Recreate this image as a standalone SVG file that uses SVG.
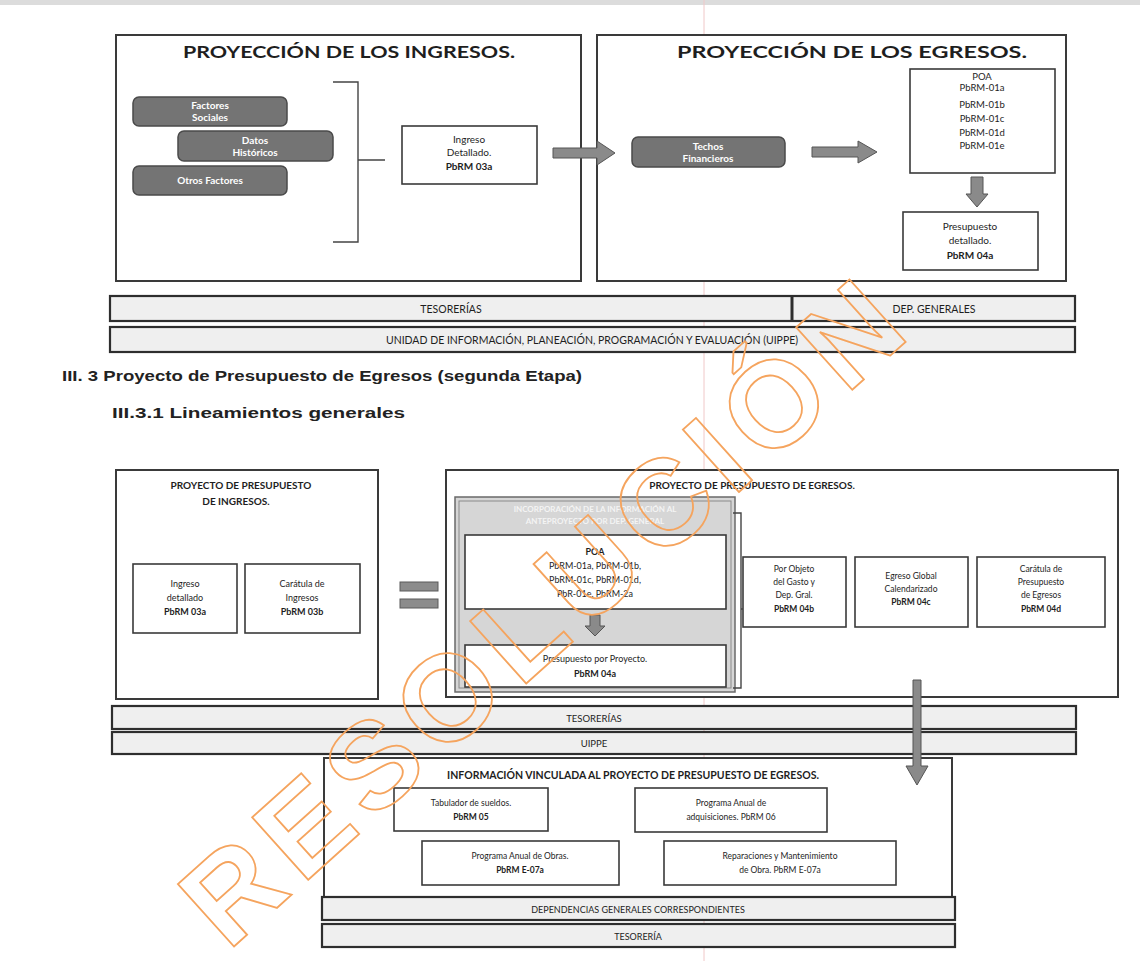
<svg xmlns="http://www.w3.org/2000/svg" width="1140" height="961" viewBox="0 0 1140 961">
<style>
.bg{fill:#ffffff}
.box{fill:#ffffff;stroke:#3a3a3a;stroke-width:2}
.ibox{fill:#ffffff;stroke:#3a3a3a;stroke-width:1.6}
.gbox{fill:#747474;stroke:#4a4a4a;stroke-width:1.5}
.bar{fill:#efefef;stroke:#2e2e2e;stroke-width:2.2}
.garrow{fill:#8a8a8a;stroke:#555;stroke-width:1}
.line{fill:none;stroke:#444;stroke-width:1.4}
.t{font-family:Lato,"Open Sans","Liberation Sans",sans-serif;fill:#1e1e1e;text-anchor:middle}
.b{font-weight:bold}
.w{fill:#ffffff;font-weight:bold}
.h{font-family:"Liberation Sans",Arial,sans-serif;font-weight:bold;fill:#222}
.wm{font-family:"Liberation Sans",Arial,sans-serif;font-weight:bold;fill:none;stroke:#f5a45e;stroke-width:1.8}
</style>
<rect class="bg" x="0" y="0" width="1140" height="961"/>
<rect x="0" y="0" width="1140" height="5" fill="#dcdcdc"/>
<line x1="704" y1="0" x2="704" y2="961" stroke="#f0c8c8" stroke-width="1"/>

<!-- TOP: Proyección de los ingresos -->
<g id="proy-ingresos">
<rect class="box" x="116" y="35" width="465" height="246"/>
<text class="t b" x="349" y="58" font-size="17" textLength="332" lengthAdjust="spacingAndGlyphs">PROYECCIÓN DE LOS INGRESOS.</text>
</g>
<g id="factores-sociales">
<rect class="gbox" x="133" y="97" width="154" height="29" rx="6"/>
<text class="t w" x="210" y="109" font-size="10">Factores</text>
<text class="t w" x="210" y="121" font-size="10">Sociales</text>
</g>
<g id="datos-historicos">
<rect class="gbox" x="178" y="131" width="155" height="30" rx="6"/>
<text class="t w" x="255" y="144" font-size="10">Datos</text>
<text class="t w" x="255" y="156" font-size="10">Históricos</text>
</g>
<g id="otros-factores">
<rect class="gbox" x="133" y="166" width="154" height="29" rx="6"/>
<text class="t w" x="210" y="184" font-size="10">Otros Factores</text>
</g>
<g id="ingreso-detallado">
<rect class="ibox" x="402" y="126" width="135" height="58"/>
<text class="t" x="469" y="143" font-size="10">Ingreso</text>
<text class="t" x="469" y="156" font-size="10">Detallado.</text>
<text class="t b" x="469" y="170" font-size="10">PbRM 03a</text>
</g>

<!-- TOP: Proyección de los egresos -->
<g id="proy-egresos">
<rect class="box" x="597" y="35" width="469" height="246"/>
<text class="t b" x="852" y="58" font-size="17" textLength="350" lengthAdjust="spacingAndGlyphs">PROYECCIÓN DE LOS EGRESOS.</text>
</g>
<g id="techos">
<rect class="gbox" x="632" y="137" width="153" height="30" rx="6"/>
<text class="t w" x="708" y="150" font-size="10">Techos</text>
<text class="t w" x="708" y="162" font-size="10">Financieros</text>
</g>
<g id="poa-top">
<rect class="ibox" x="910" y="69" width="145" height="104"/>
<text class="t" x="982" y="80" font-size="9.5">POA</text>
<text class="t" x="982" y="91" font-size="9.5">PbRM-01a</text>
<text class="t" x="982" y="108" font-size="9.5">PbRM-01b</text>
<text class="t" x="982" y="122" font-size="9.5">PbRM-01c</text>
<text class="t" x="982" y="136" font-size="9.5">PbRM-01d</text>
<text class="t" x="982" y="149" font-size="9.5">PbRM-01e</text>
</g>
<g id="presupuesto-detallado">
<rect class="ibox" x="903" y="212" width="135" height="58"/>
<text class="t" x="970" y="230" font-size="10">Presupuesto</text>
<text class="t" x="970" y="244" font-size="10">detallado.</text>
<text class="t b" x="970" y="259" font-size="10">PbRM 04a</text>
</g>

<!-- Top bars -->
<g id="bar-tesorerias-top">
<rect class="bar" x="110" y="296" width="965" height="25"/>
<line x1="792" y1="296" x2="792" y2="321" stroke="#2e2e2e" stroke-width="3"/>
<text class="t" x="451" y="313" font-size="10.5">TESORERÍAS</text>
<text class="t" x="934" y="313" font-size="10.5">DEP. GENERALES</text>
</g>
<g id="bar-uippe-top">
<rect class="bar" x="110" y="327" width="965" height="25"/>
<text class="t" x="592" y="344" font-size="10.5">UNIDAD DE INFORMACIÓN, PLANEACIÓN, PROGRAMACIÓN Y EVALUACIÓN (UIPPE)</text>
</g>

<!-- Headings -->
<text class="h" x="62" y="381" font-size="14" textLength="520" lengthAdjust="spacingAndGlyphs">III. 3 Proyecto de Presupuesto de Egresos (segunda Etapa)</text>
<text class="h" x="112" y="418" font-size="14" textLength="293" lengthAdjust="spacingAndGlyphs">III.3.1 Lineamientos generales</text>

<!-- BOTTOM: Proyecto de presupuesto de ingresos -->
<g id="ppi">
<rect class="box" x="116" y="470" width="262" height="229"/>
<text class="t b" x="241" y="489" font-size="10">PROYECTO DE PRESUPUESTO</text>
<text class="t b" x="236" y="505" font-size="10">DE INGRESOS.</text>
</g>
<g id="ingreso-detallado-2">
<rect class="ibox" x="133" y="564" width="104" height="69"/>
<text class="t" x="185" y="587" font-size="9">Ingreso</text>
<text class="t" x="185" y="601" font-size="9">detallado</text>
<text class="t b" x="185" y="615" font-size="9">PbRM 03a</text>
</g>
<g id="caratula-ingresos">
<rect class="ibox" x="245" y="564" width="115" height="69"/>
<text class="t" x="302" y="587" font-size="9">Carátula de</text>
<text class="t" x="302" y="601" font-size="9">Ingresos</text>
<text class="t b" x="302" y="615" font-size="9">PbRM 03b</text>
</g>

<!-- BOTTOM: Proyecto de presupuesto de egresos -->
<g id="ppe">
<rect class="box" x="446" y="470" width="672" height="227"/>
<text class="t b" x="752" y="489" font-size="10">PROYECTO DE PRESUPUESTO DE EGRESOS.</text>
</g>
<g id="incorporacion">
<rect x="455" y="497" width="280" height="195" fill="#d6d6d6" stroke="#6a6a6a" stroke-width="1.5"/>
<rect x="459" y="501" width="272" height="187" fill="none" stroke="#8a8a8a" stroke-width="1"/>
<text class="t b" x="595" y="512" font-size="8" style="fill:#f4f4f4">INCORPORACIÓN DE LA INFORMACIÓN AL</text>
<text class="t b" x="595" y="524" font-size="8" style="fill:#f4f4f4">ANTEPROYECTO POR DEP. GENERAL</text>
</g>
<g id="poa-bottom">
<rect class="ibox" x="465" y="535" width="261" height="74"/>
<text class="t b" x="595" y="555" font-size="9">POA</text>
<text class="t" x="595" y="569" font-size="9">PbRM-01a, PbRM-01b,</text>
<text class="t" x="595" y="583" font-size="9">PbRM-01c, PbRM-01d,</text>
<text class="t" x="595" y="597" font-size="9">PbR-01e, PbRM-2a</text>
</g>
<g id="presupuesto-proyecto">
<rect class="ibox" x="465" y="645" width="261" height="42"/>
<text class="t" x="595" y="662" font-size="9">Presupuesto por Proyecto.</text>
<text class="t b" x="595" y="677" font-size="9">PbRM 04a</text>
</g>
<g id="por-objeto">
<rect class="ibox" x="743" y="557" width="103" height="70"/>
<text class="t" x="794" y="572" font-size="8.5">Por Objeto</text>
<text class="t" x="794" y="585" font-size="8.5">del Gasto y</text>
<text class="t" x="794" y="598" font-size="8.5">Dep. Gral.</text>
<text class="t b" x="794" y="612" font-size="8.5">PbRM 04b</text>
</g>
<g id="egreso-global">
<rect class="ibox" x="855" y="557" width="113" height="70"/>
<text class="t" x="911" y="579" font-size="8.5">Egreso Global</text>
<text class="t" x="911" y="592" font-size="8.5">Calendarizado</text>
<text class="t b" x="911" y="605" font-size="8.5">PbRM 04c</text>
</g>
<g id="caratula-egresos">
<rect class="ibox" x="977" y="557" width="128" height="70"/>
<text class="t" x="1041" y="572" font-size="8.5">Carátula de</text>
<text class="t" x="1041" y="585" font-size="8.5">Presupuesto</text>
<text class="t" x="1041" y="598" font-size="8.5">de Egresos</text>
<text class="t b" x="1041" y="612" font-size="8.5">PbRM 04d</text>
</g>

<!-- Bottom bars -->
<g id="bar-tesorerias">
<rect class="bar" x="112" y="706" width="964" height="23"/>
<text class="t" x="594" y="722" font-size="9.5">TESORERÍAS</text>
</g>
<g id="bar-uippe">
<rect class="bar" x="112" y="732" width="964" height="22"/>
<text class="t" x="594" y="747" font-size="9.5">UIPPE</text>
</g>

<!-- Información vinculada -->
<g id="info-vinculada">
<rect class="box" x="324" y="758" width="628" height="139"/>
<text class="t b" x="633" y="779" font-size="10.5">INFORMACIÓN VINCULADA AL PROYECTO DE PRESUPUESTO DE EGRESOS.</text>
</g>
<g id="tabulador">
<rect class="ibox" x="394" y="788" width="154" height="43"/>
<text class="t" x="471" y="806" font-size="8.5">Tabulador de sueldos.</text>
<text class="t b" x="471" y="820" font-size="8.5">PbRM 05</text>
</g>
<g id="adquisiciones">
<rect class="ibox" x="635" y="788" width="192" height="44"/>
<text class="t" x="731" y="806" font-size="8.5">Programa Anual de</text>
<text class="t" x="731" y="820" font-size="8.5">adquisiciones. PbRM 06</text>
</g>
<g id="obras">
<rect class="ibox" x="422" y="841" width="197" height="44"/>
<text class="t" x="520" y="859" font-size="8.5">Programa Anual de Obras.</text>
<text class="t b" x="520" y="873" font-size="8.5">PbRM E-07a</text>
</g>
<g id="reparaciones">
<rect class="ibox" x="664" y="841" width="232" height="44"/>
<text class="t" x="780" y="859" font-size="8.5">Reparaciones y Mantenimiento</text>
<text class="t" x="780" y="873" font-size="8.5">de Obra.  PbRM E-07a</text>
</g>
<g id="bar-dependencias">
<rect class="bar" x="322" y="897" width="633" height="23"/>
<text class="t" x="638" y="913" font-size="9">DEPENDENCIAS GENERALES CORRESPONDIENTES</text>
</g>
<g id="bar-tesoreria">
<rect class="bar" x="322" y="924" width="633" height="23"/>
<text class="t" x="638" y="940" font-size="9">TESORERÍA</text>
</g>

<!-- Connectors -->
<g id="connectors">
<path class="line" d="M333,82 H358 V242 H333 M358,160 H385"/>
<path class="garrow" d="M553,148 H597 V141 L615,153 L597,165 V158 H553 Z"/>
<path class="garrow" d="M812,147 H858 V141 L877,152 L858,163 V157 H812 Z"/>
<path class="garrow" d="M971,177 H983 V194 H988 L977,207 L966,194 H971 Z"/>
<path class="line" d="M733,513 H741 V688 H733 M741,609 H743"/>
<path class="garrow" d="M590,615 H600 V626 H605 L595,636 L585,626 H590 Z"/>
<rect x="400" y="582" width="38" height="9" fill="#8c8c8c" stroke="#5a5a5a" stroke-width="1"/>
<rect x="400" y="599" width="38" height="9" fill="#8c8c8c" stroke="#5a5a5a" stroke-width="1"/>
<path class="garrow" d="M913,680 H921 V766 H928 L917,785 L906,766 H913 Z"/>
</g>

<!-- Watermark -->
<text class="wm" transform="translate(228,952) rotate(-42)" font-size="122" textLength="920" lengthAdjust="spacing">RESOLUCIÓN</text>
</svg>
